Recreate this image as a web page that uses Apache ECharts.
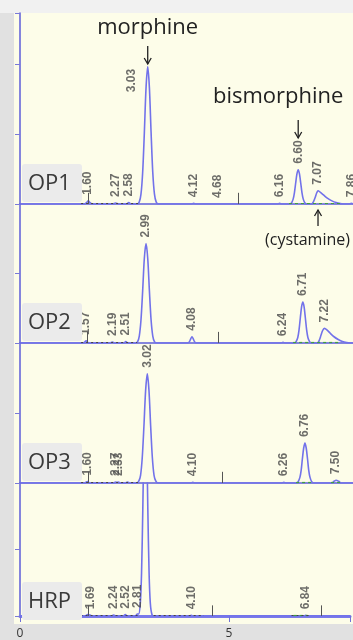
<!DOCTYPE html>
<html>
<head>
<meta charset="utf-8">
<script src="https://cdn.jsdelivr.net/npm/echarts@6/dist/echarts.min.js"></script>
<style>
  html, body { margin: 0; padding: 0; background: #e1e1e1; }
  #chart { width: 353px; height: 640px; }
</style>
</head>
<body>
<div id="chart"></div>
<script>
// Retention-time axis (minutes)
const timeMin = 0;
const timeMax = 7.9;
const timeTickStep = 5;

const panelNames = ['OP1', 'OP2', 'OP3', 'HRP'];

// Detector traces: [retention time (min), response]
const traceOP1 = [
  [0, 0], [1.52, 0], [1.58, 0.02], [1.62, 0.045], [1.66, 0.02], [1.72, 0],
  [2.20, 0], [2.27, 0.015], [2.33, 0], [2.52, 0], [2.58, 0.02], [2.64, 0],
  [2.78, 0], [2.83, 0.03], [2.87, 0.14], [2.91, 0.45], [2.95, 1.02], [2.99, 1.66], [3.03, 1.96],
  [3.07, 1.66], [3.11, 1.02], [3.15, 0.45], [3.19, 0.14], [3.23, 0.03], [3.28, 0],
  [4.07, 0], [4.12, 0.01], [4.17, 0], [6.11, 0], [6.16, 0.01], [6.21, 0],
  [6.40, 0], [6.44, 0.015], [6.48, 0.07], [6.51, 0.16], [6.54, 0.30], [6.57, 0.43], [6.60, 0.49],
  [6.63, 0.43], [6.66, 0.30], [6.69, 0.16], [6.72, 0.07], [6.76, 0.015], [6.80, 0],
  [6.92, 0], [6.96, 0.03], [7.00, 0.09], [7.04, 0.16], [7.07, 0.19], [7.12, 0.17], [7.20, 0.13],
  [7.30, 0.08], [7.40, 0.045], [7.50, 0.02], [7.60, 0.005], [7.66, 0],
  [7.81, 0], [7.86, 0.01], [7.91, 0]
];
const traceOP2 = [
  [0, 0], [1.50, 0], [1.57, 0.03], [1.63, 0], [2.14, 0], [2.19, 0.015], [2.24, 0],
  [2.46, 0], [2.51, 0.02], [2.56, 0],
  [2.74, 0], [2.79, 0.02], [2.83, 0.10], [2.87, 0.33], [2.91, 0.75], [2.95, 1.22], [2.99, 1.43],
  [3.03, 1.22], [3.07, 0.75], [3.11, 0.33], [3.15, 0.10], [3.19, 0.02], [3.24, 0],
  [3.98, 0], [4.02, 0.02], [4.05, 0.06], [4.08, 0.09], [4.11, 0.06], [4.14, 0.02], [4.18, 0],
  [6.19, 0], [6.24, 0.01], [6.29, 0],
  [6.51, 0], [6.55, 0.02], [6.59, 0.08], [6.62, 0.19], [6.65, 0.36], [6.68, 0.52], [6.71, 0.59],
  [6.74, 0.52], [6.77, 0.36], [6.80, 0.19], [6.83, 0.08], [6.87, 0.02], [6.92, 0],
  [7.06, 0], [7.10, 0.04], [7.14, 0.11], [7.18, 0.18], [7.22, 0.21], [7.28, 0.19], [7.36, 0.14],
  [7.45, 0.09], [7.55, 0.05], [7.65, 0.02], [7.75, 0.005], [7.82, 0], [7.91, 0]
];
const traceOP3 = [
  [0, 0], [1.53, 0], [1.60, 0.02], [1.66, 0], [2.22, 0], [2.27, 0.015], [2.30, 0.01], [2.33, 0.015], [2.38, 0],
  [2.50, 0], [2.55, 0.015], [2.60, 0],
  [2.77, 0], [2.82, 0.03], [2.86, 0.11], [2.90, 0.36], [2.94, 0.81], [2.98, 1.32], [3.02, 1.56],
  [3.06, 1.32], [3.10, 0.81], [3.14, 0.36], [3.18, 0.11], [3.22, 0.03], [3.27, 0],
  [4.05, 0], [4.10, 0.01], [4.15, 0], [6.21, 0], [6.26, 0.01], [6.31, 0],
  [6.56, 0], [6.60, 0.02], [6.64, 0.08], [6.67, 0.18], [6.70, 0.35], [6.73, 0.50], [6.76, 0.57],
  [6.79, 0.50], [6.82, 0.35], [6.85, 0.18], [6.88, 0.08], [6.92, 0.02], [6.97, 0],
  [7.40, 0], [7.45, 0.025], [7.50, 0.04], [7.56, 0.025], [7.62, 0], [7.91, 0]
];
const traceHRP = [
  [0, 0], [1.55, 0], [1.62, 0.02], [1.69, 0.01], [1.74, 0], [2.19, 0], [2.24, 0.015], [2.29, 0],
  [2.47, 0], [2.52, 0.02], [2.57, 0], [2.76, 0], [2.81, 0.03], [2.84, 0.03],
  [2.88, 0.19], [2.91, 0.65], [2.94, 1.61], [2.97, 2.76], [3.00, 3.3],
  [3.03, 2.76], [3.06, 1.61], [3.09, 0.65], [3.12, 0.19], [3.16, 0.02], [3.21, 0],
  [4.05, 0], [4.10, 0.01], [4.15, 0], [6.79, 0], [6.84, 0.01], [6.89, 0], [7.91, 0]
];

// Integrated peaks: [retention time, apex response, printed time]
const peaksOP1 = [
  [1.60, 0.045, '1.60'], [2.27, 0.015, '2.27'], [2.58, 0.02, '2.58'], [3.03, 1.96, '3.03'],
  [4.12, 0.01, '4.12'], [4.68, 0.0, '4.68'], [6.16, 0.01, '6.16'], [6.60, 0.49, '6.60'],
  [7.07, 0.19, '7.07'], [7.86, 0.01, '7.86']
];
const peaksOP2 = [
  [1.57, 0.03, '1.57'], [2.19, 0.015, '2.19'], [2.51, 0.02, '2.51'], [2.99, 1.43, '2.99'],
  [4.08, 0.09, '4.08'], [6.24, 0.01, '6.24'], [6.71, 0.59, '6.71'], [7.22, 0.21, '7.22']
];
const peaksOP3 = [
  [1.60, 0.02, '1.60'], [2.27, 0.015, '2.27'], [2.33, 0.015, '2.33'], [3.02, 1.56, '3.02'],
  [4.10, 0.01, '4.10'], [6.26, 0.01, '6.26'], [6.76, 0.57, '6.76'], [7.50, 0.04, '7.50']
];
const peaksHRP = [
  [1.69, 0.01, '1.69'], [2.24, 0.015, '2.24'], [2.52, 0.02, '2.52'], [2.81, 0.03, '2.81'],
  [4.10, 0.01, '4.10'], [6.84, 0.01, '6.84']
];

// Event marks on the baseline (min)
const eventsOP1 = [1.63, 5.17];
const eventsOP2 = [1.60, 4.70];
const eventsOP3 = [1.62, 4.80];
const eventsHRP = [1.63, 4.60, 7.20];

// Integration baselines [from, to] (min)
const valleyBaseOP1 = [[6.38, 7.62]];
const valleyBaseOP2 = [[6.48, 7.62]];
const valleyBaseOP3 = [[6.55, 6.95], [7.38, 7.65]];
const valleyBaseHRP = [[6.55, 6.90]];
const dropBaseOP1 = [[1.45, 2.85]];
const dropBaseOP2 = [[1.45, 2.78]];
const dropBaseOP3 = [[1.45, 2.80]];
const dropBaseHRP = [[1.45, 2.85], [3.2, 4.4], [6.5, 6.95]];

// Compound annotations (OP1 panel)
const morphineTime = 3.03;
const bismorphineTime = 6.60;
const cystamineTime = 7.07;

const traces = [traceOP1, traceOP2, traceOP3, traceHRP];
const peaks = [peaksOP1, peaksOP2, peaksOP3, peaksHRP];
const events = [eventsOP1, eventsOP2, eventsOP3, eventsHRP];
const valleyBases = [valleyBaseOP1, valleyBaseOP2, valleyBaseOP3, valleyBaseHRP];
const dropBases = [dropBaseOP1, dropBaseOP2, dropBaseOP3, dropBaseHRP];

// ---- layout ----
const panelTops = [13, 204, 343, 483];
const panelHeights = [191, 139, 140, 139];
const yMaxes = [2.73, 2, 2, 2];
const plotLeft = 20;
const TRACE = '#7272ea';
const AXIS = '#5d5dd8';
const LABEL_FONT = '"Liberation Sans",Arial,sans-serif';
const TEXT_FONT = '"Open Sans","Noto Sans",sans-serif';
// label drawn beside (left of) the apex instead of above it
const besideApex = { 0: ['3.03'] };

const chart = echarts.init(document.getElementById('chart'), null, { renderer: 'canvas' });

const grids = [], xAxes = [], yAxes = [], series = [];
panelNames.forEach((name, i) => {
  const last = i === panelNames.length - 1;
  grids.push({ left: plotLeft, right: 0, top: panelTops[i], height: panelHeights[i] });
  xAxes.push({
    type: 'value', gridIndex: i, min: timeMin, max: timeMax, interval: timeTickStep,
    axisLine: { show: true, onZero: false, lineStyle: { color: last ? '#7a7aea' : AXIS, width: last ? 3 : 1.5 } },
    axisTick: { show: last, length: 6, lineStyle: { color: '#7070d8', width: 1 } },
    axisLabel: {
      show: last, margin: 12, fontSize: 12, color: '#333', fontFamily: TEXT_FONT,
      formatter: v => (Math.abs(v % timeTickStep) < 1e-9 ? String(v) : '')
    },
    splitLine: { show: false }
  });
  yAxes.push({
    type: 'value', gridIndex: i, min: 0, max: yMaxes[i], interval: 1,
    axisLine: { show: true, lineStyle: { color: AXIS, width: 1.5 } },
    axisTick: { show: true, inside: false, length: 5, lineStyle: { color: '#7a7ad8', width: 1 } },
    axisLabel: { show: false },
    splitLine: { show: false }
  });

  const markData = [];
  events[i].forEach(t => {
    markData.push([{ coord: [t, 0], lineStyle: { color: '#555', width: 1, type: 'solid' } }, { coord: [t, 0.16] }]);
  });
  valleyBases[i].forEach(([a, b]) => {
    markData.push([{ coord: [a, 0.012], lineStyle: { color: '#3fa03f', width: 1.2, type: [3, 3] } }, { coord: [b, 0.012] }]);
  });
  dropBases[i].forEach(([a, b]) => {
    markData.push([{ coord: [a, 0.01], lineStyle: { color: '#444', width: 1.2, type: [2, 3] } }, { coord: [b, 0.01] }]);
  });

  series.push({
    type: 'line', xAxisIndex: i, yAxisIndex: i, data: traces[i],
    showSymbol: false, smooth: 0.3, clip: true, z: 3,
    lineStyle: { color: TRACE, width: 1.6 },
    markLine: { silent: true, symbol: ['none', 'none'], label: { show: false }, animation: false, data: markData }
  });

  const beside = besideApex[i] || [];
  series.push({
    type: 'scatter', xAxisIndex: i, yAxisIndex: i, symbolSize: 0, z: 4, silent: true, clip: false,
    data: peaks[i].map(p => {
      const item = { value: p };
      if (beside.includes(p[2])) {
        item.label = { position: [-16, 2], align: 'right', verticalAlign: 'middle' };
      }
      return item;
    }),
    label: {
      show: true, formatter: p => p.data.value[2], position: 'top', distance: 6, rotate: 90,
      align: 'left', verticalAlign: 'middle', fontSize: 12, fontWeight: 'bold',
      color: '#484848', fontFamily: LABEL_FONT
    }
  });
});

chart.setOption({
  animation: false,
  backgroundColor: '#e1e1e1',
  grid: grids, xAxis: xAxes, yAxis: yAxes, series: series
});

// ---- backgrounds, panel tags and compound annotations ----
const px = (t, v, gi) => chart.convertToPixel({ xAxisIndex: gi, yAxisIndex: gi }, [t, v]);
const graphics = [
  { type: 'rect', z: -10, silent: true, shape: { x: 0, y: 0, width: 353, height: 13 }, style: { fill: '#f1f1f1' } },
  { type: 'rect', z: -10, silent: true, shape: { x: 14, y: 13, width: 339, height: 611 }, style: { fill: '#fdfde9' } }
];
panelNames.forEach((name, i) => {
  const base = panelTops[i] + panelHeights[i];
  graphics.push({
    type: 'rect', z: 50, silent: true,
    shape: { x: 22, y: base - 40, width: 60, height: 38, r: 3 },
    style: { fill: '#ebebeb' }
  });
  graphics.push({
    type: 'text', z: 51, silent: true,
    style: { text: name, x: 28, y: base - 20, font: '22px ' + TEXT_FONT, fill: '#3a3a3a', verticalAlign: 'middle', align: 'left' }
  });
});

function arrow(x, y1, y2) {
  const dir = y2 > y1 ? 1 : -1;
  return [
    { type: 'line', z: 60, silent: true, shape: { x1: x, y1: y1, x2: x, y2: y2 }, style: { stroke: '#222', lineWidth: 1.3 } },
    { type: 'polyline', z: 60, silent: true,
      shape: { points: [[x - 3.5, y2 - dir * 6], [x, y2], [x + 3.5, y2 - dir * 6]] },
      style: { stroke: '#222', lineWidth: 1.3, fill: null } }
  ];
}

const mX = px(morphineTime, 0, 0)[0];
const bX = px(bismorphineTime, 0, 0)[0];
const cX = px(cystamineTime, 0, 0)[0];
graphics.push({ type: 'text', z: 60, silent: true,
  style: { text: 'morphine', x: mX, y: 28, font: '22px ' + TEXT_FONT, fill: '#222', align: 'center', verticalAlign: 'middle' } });
graphics.push(...arrow(mX, 46, 64));
graphics.push({ type: 'text', z: 60, silent: true,
  style: { text: 'bismorphine', x: bX - 20, y: 97, font: '22px ' + TEXT_FONT, fill: '#222', align: 'center', verticalAlign: 'middle' } });
graphics.push(...arrow(bX, 120, 138));
graphics.push(...arrow(cX, 226, 210));
graphics.push({ type: 'text', z: 60, silent: true,
  style: { text: '(cystamine)', x: 265, y: 240, font: '16px ' + TEXT_FONT, fill: '#222', align: 'left', verticalAlign: 'middle' } });

chart.setOption({ graphic: graphics });
</script>
</body>
</html>
